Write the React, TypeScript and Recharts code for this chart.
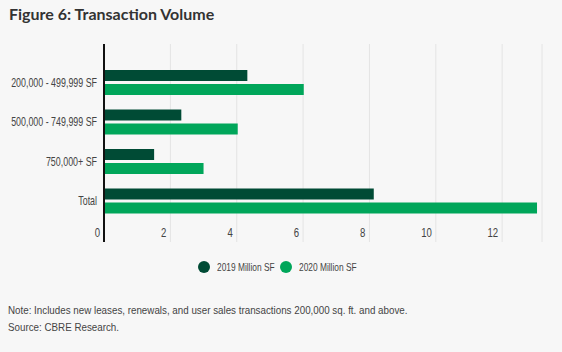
import { BarChart, Bar, XAxis, YAxis, CartesianGrid, Legend } from 'recharts';

const CATEGORIES = ['200,000 - 499,999 SF', '500,000 - 749,999 SF', '750,000+ SF', 'Total'];
const SERIES_2019 = [4.32, 2.33, 1.51, 8.13];
const SERIES_2020 = [6.02, 4.03, 3.0, 13.05];
const X_TICKS = [0, 2, 4, 6, 8, 10, 12];

const DARK = '#004b35';
const BRIGHT = '#00a65a';
const FONT = '"Liberation Sans", Arial, sans-serif';

const chartData = CATEGORIES.map((name, i) => ({
  name,
  y2019: SERIES_2019[i],
  y2020: SERIES_2020[i],
}));

function ValueTick({ x, y, payload }: any) {
  return (
    <text
      transform={`translate(${x - 4},${y - 13}) scale(0.8,1)`}
      textAnchor="end"
      fontSize={12}
      fill="#444"
      fontFamily={FONT}
    >
      {payload.value}
    </text>
  );
}

function CategoryTick({ x, y, payload }: any) {
  return (
    <text
      transform={`translate(${x},${y + 4}) scale(0.74,1)`}
      textAnchor="end"
      fontSize={12}
      fill="#444"
      fontFamily={FONT}
    >
      {payload.value}
    </text>
  );
}

function LegendContent({ payload }: any) {
  return (
    <div style={{ display: 'flex', justifyContent: 'center', gap: 8, fontFamily: FONT, fontSize: 11, color: '#444', paddingLeft: 10 }}>
      {(payload || []).map((item: any) => (
        <div key={item.value} style={{ display: 'flex', alignItems: 'center' }}>
          <svg width={12} height={12} style={{ marginRight: 7 }}>
            <circle cx={6} cy={6} r={6} fill={item.color} />
          </svg>
          <span style={{ display: 'inline-block', width: 55, whiteSpace: 'nowrap' }}>
            <span style={{ display: 'inline-block', transform: 'scaleX(0.76)', transformOrigin: 'left' }}>
              {item.value}
            </span>
          </span>
        </div>
      ))}
    </div>
  );
}

export default function App() {
  return (
    <div style={{ width: 562, height: 352, background: '#f7f7f7', position: 'absolute', left: 0, top: 0, color: '#333' }}>
      <div style={{ position: 'absolute', left: 9, top: 4, fontFamily: 'Lato, sans-serif', fontWeight: 700, fontSize: 16, color: '#333' }}>
        Figure 6: Transaction Volume
      </div>
      <BarChart
        width={562}
        height={304}
        data={chartData}
        layout="vertical"
        margin={{ top: 44, right: 20, bottom: 0, left: 0 }}
        barSize={11}
        barGap={3}
        style={{ position: 'absolute', left: 0, top: 0 }}
      >
        <CartesianGrid horizontal={false} stroke="#e4e4e4" />
        <XAxis
          type="number"
          domain={[0, 13.2]}
          ticks={X_TICKS}
          axisLine={false}
          tickLine={false}
          height={50}
          tick={<ValueTick />}
        />
        <YAxis
          type="category"
          dataKey="name"
          width={104}
          padding={{ top: 19, bottom: 21 }}
          axisLine={{ stroke: '#111', strokeWidth: 2 }}
          tickLine={false}
          tickMargin={1}
          tick={<CategoryTick />}
        />
        <Legend verticalAlign="bottom" content={<LegendContent />} wrapperStyle={{ bottom: 31 }} />
        <Bar dataKey="y2019" name="2019 Million SF" fill={DARK} isAnimationActive={false} />
        <Bar dataKey="y2020" name="2020 Million SF" fill={BRIGHT} isAnimationActive={false} />
      </BarChart>
      <div
        style={{
          position: 'absolute',
          left: 8,
          top: 302,
          fontFamily: FONT,
          fontSize: 11,
          lineHeight: '17px',
          color: '#444',
          whiteSpace: 'nowrap',
          transform: 'scaleX(0.89)',
          transformOrigin: 'left',
        }}
      >
        <div>Note: Includes new leases, renewals, and user sales transactions 200,000 sq. ft. and above.</div>
        <div>Source: CBRE Research.</div>
      </div>
    </div>
  );
}
